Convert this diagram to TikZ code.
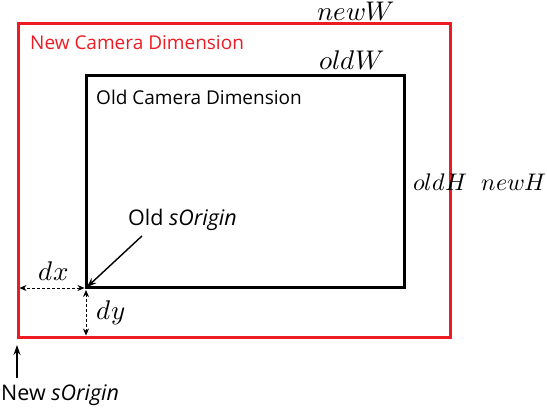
\documentclass[tikz,border=0pt]{standalone}
\usepackage{fontspec}
\usepackage{unicode-math}
\setmainfont{Open Sans}
\setmathfont{Latin Modern Math}
\usetikzlibrary{arrows.meta}
\definecolor{camred}{RGB}{237,28,36}
\tikzset{
  dimarrow/.style={densely dashed,line width=0.8pt,{Stealth[length=7pt,width=6pt]}-{Stealth[length=7pt,width=6pt]}},
  ptarrow/.style={line width=1.4pt,-{Stealth[length=10pt,width=7pt]}},
  txt/.style={font=\fontsize{19}{19}\selectfont,inner sep=0pt},
  origtxt/.style={font=\fontsize{21.5}{21.5}\selectfont,inner sep=0pt},
  sym/.style={font=\fontsize{27}{27}\selectfont,inner sep=0pt},
  symH/.style={font=\fontsize{24}{24}\selectfont,inner sep=0pt},
}
\begin{document}
\begin{tikzpicture}[x=1pt,y=-1pt]
  \useasboundingbox (0,0) rectangle (547,408);
  % the two frames
  \draw[camred,line width=3pt] (18,23) rectangle (450,337);
  \draw[black,line width=3pt] (86,75) rectangle (404,287);
  \coordinate (oldO) at (86,288);
  \coordinate (newO) at (17,337);
  \coordinate (leftE) at (18,288);
  \coordinate (botE) at (86,337);
  % labels
  \node[txt,camred,anchor=west] (newlbl) at (30,43) {New Camera Dimension};
  \node[txt,anchor=west] (oldlbl) at (96,97) {Old Camera Dimension};
  \node[sym] (newW) at (356,12) {$newW$};
  \node[sym] (oldW) at (352,60) {$oldW$};
  \node[symH] (oldH) at (440,182) {$oldH$};
  \node[symH] (newH) at (514,182) {$newH$};
  \node[sym] (dx) at (54,271) {$dx$};
  \node[sym] (dy) at (111,313) {$dy$};
  \node[origtxt,anchor=west] (oldorig) at (128,220) {Old \textit{sOrigin}};
  \node[origtxt,anchor=west] (neworig) at (1,395) {New \textit{sOrigin}};
  % offsets
  \draw[dimarrow,shorten <=1.5pt,shorten >=1.5pt] (oldO) -- (leftE);
  \draw[dimarrow,shorten <=2pt,shorten >=1.5pt] (oldO) -- (botE);
  % origin pointers
  \draw[ptarrow,shorten >=1pt] ([xshift=14pt,yshift=-5pt]oldorig.south west) -- (oldO);
  \draw[ptarrow,shorten >=8pt] (neworig.north west -| newO) ++(0,-6) -- (newO);
\end{tikzpicture}
\end{document}
